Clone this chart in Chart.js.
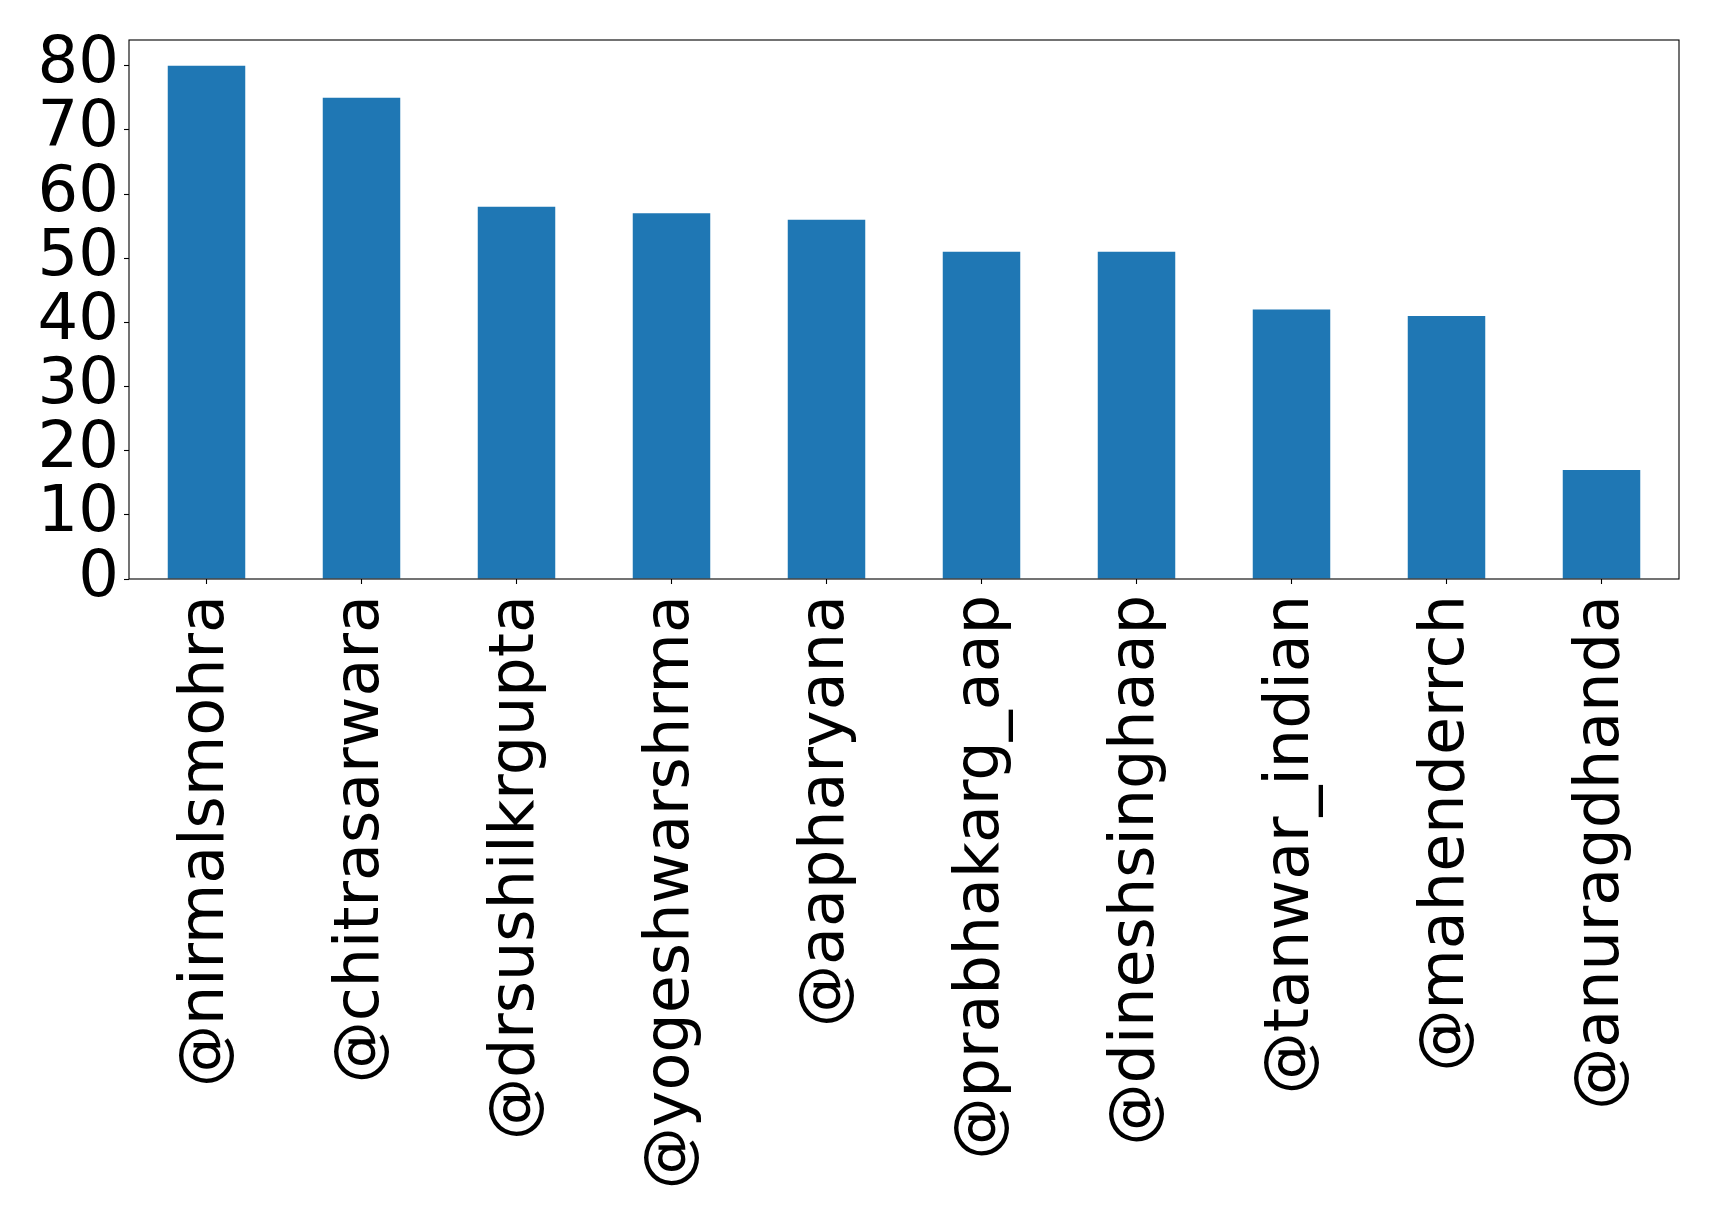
<!DOCTYPE html>
<html>
<head>
<meta charset="utf-8">
<script src="https://cdn.jsdelivr.net/npm/chart.js@4/dist/chart.umd.min.js"></script>
<style>
  html, body { margin: 0; padding: 0; background: #ffffff; }
  #wrap { width: 1719px; height: 1227px; }
</style>
</head>
<body>
<div id="wrap"><canvas id="c" width="1719" height="1227"></canvas></div>
<script>
const categories = ["@nirmalsmohra", "@chitrasarwara", "@drsushilkrgupta", "@yogeshwarshrma", "@aapharyana", "@prabhakarg_aap", "@dineshsinghaap", "@tanwar_indian", "@mahenderrch", "@anuragdhanda"];
const counts = [80, 75, 58, 57, 56, 51, 51, 42, 41, 17];
const yTicks = [0, 10, 20, 30, 40, 50, 60, 70, 80];
const yMax = 84;

const frame = {
  id: 'frame',
  afterDatasetsDraw(chart) {
    const a = chart.chartArea, ctx = chart.ctx;
    ctx.save();
    ctx.strokeStyle = '#000000';
    ctx.lineWidth = 1.1;
    ctx.strokeRect(a.left, a.top, a.right - a.left, a.bottom - a.top);
    ctx.restore();
  }
};

new Chart(document.getElementById('c'), {
  type: 'bar',
  data: {
    labels: categories,
    datasets: [{
      data: counts,
      backgroundColor: '#1f77b4',
      borderWidth: 0,
      barPercentage: 0.5,
      categoryPercentage: 1.0
    }]
  },
  options: {
    responsive: false,
    animation: false,
    events: [],
    layout: { padding: { top: 40, right: 40, left: 0, bottom: 0 } },
    plugins: { legend: { display: false }, tooltip: { enabled: false } },
    scales: {
      x: {
        offset: true,
        grid: { display: true, drawOnChartArea: false, offset: false, tickLength: 5, color: '#000000', tickWidth: 1.1 },
        border: { display: false },
        ticks: {
          autoSkip: false,
          minRotation: 90,
          maxRotation: 90,
          padding: 11,
          color: '#000000',
          font: { family: 'DejaVu Sans', size: 62 }
        },
        afterFit(axis) { axis.height = 648; }
      },
      y: {
        min: 0,
        max: yMax,
        grid: { display: true, drawOnChartArea: false, tickLength: 5, color: '#000000', tickWidth: 1.1 },
        border: { display: false },
        afterBuildTicks(axis) { axis.ticks = yTicks.map(v => ({ value: v })); },
        ticks: {
          autoSkip: false,
          padding: 5,
          color: '#000000',
          font: { family: 'DejaVu Sans', size: 64, lineHeight: 1.0 }
        },
        afterFit(axis) { axis.width = 129; axis.paddingTop = 0; axis.paddingBottom = 0; }
      }
    }
  },
  plugins: [frame]
});
</script>
</body>
</html>
